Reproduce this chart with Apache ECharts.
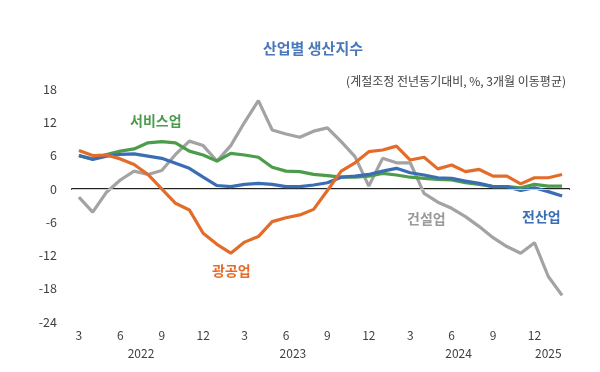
<!DOCTYPE html>
<html><head><meta charset="utf-8">
<script src="https://cdn.jsdelivr.net/npm/echarts@6/dist/echarts.min.js"></script>
<style>html,body{margin:0;padding:0;background:#fff}#c{width:600px;height:372px}</style>
</head><body><div id="c"></div>
<script>
var months = ['2022.3','2022.4','2022.5','2022.6','2022.7','2022.8','2022.9','2022.10','2022.11','2022.12',
  '2023.1','2023.2','2023.3','2023.4','2023.5','2023.6','2023.7','2023.8','2023.9','2023.10','2023.11','2023.12',
  '2024.1','2024.2','2024.3','2024.4','2024.5','2024.6','2024.7','2024.8','2024.9','2024.10','2024.11','2024.12',
  '2025.1','2025.2'];
var allIndustry = [6.0,5.3,5.9,6.2,6.3,5.9,5.5,4.6,3.7,2.1,0.6,0.4,0.8,1.0,0.8,0.4,0.4,0.7,1.1,2.1,2.3,2.6,3.2,3.7,2.9,2.5,2.0,1.9,1.4,1.0,0.4,0.4,-0.3,0.2,-0.5,-1.3];
var mining = [6.9,6.0,6.1,5.4,4.4,2.6,0.0,-2.6,-3.8,-8.0,-10.0,-11.6,-9.6,-8.6,-5.9,-5.2,-4.7,-3.7,-0.3,3.2,4.7,6.7,7.0,7.7,5.2,5.7,3.6,4.3,3.1,3.5,2.3,2.3,0.9,2.0,2.0,2.6];
var services = [6.0,5.4,6.2,6.8,7.2,8.3,8.5,8.3,6.8,6.1,5.0,6.4,6.1,5.7,3.9,3.2,3.1,2.6,2.4,2.1,2.1,2.3,2.8,2.5,2.1,1.9,1.7,1.6,1.1,0.8,0.4,0.4,0.2,0.8,0.5,0.5];
var construction = [-1.5,-4.2,-0.6,1.6,3.2,2.6,3.3,6.2,8.6,7.8,5.0,7.8,12.0,15.9,10.6,9.9,9.3,10.4,11.0,8.5,5.8,0.5,5.5,4.7,4.7,-0.8,-2.4,-3.5,-5.0,-6.8,-8.8,-10.4,-11.6,-9.7,-15.8,-19.2];
var yearLabels = ['2022','2023','2024','2025'];
var yearPositions = [4.5, 15.5, 27.5, 34];
var yTicks = [-24,-18,-12,-6,0,6,12,18];

var FONT = '"Noto Sans CJK KR", "Noto Sans", sans-serif';
var C_BLUE = '#3a6db3', C_ORANGE = '#e46c2a', C_GREEN = '#4b9d4b', C_GRAY = '#a3a3a3';

var chart = echarts.init(document.getElementById('c'), null, {renderer: 'canvas'});
function lineSeries(name, data, color, z) {
  return {name: name, type: 'line', data: data, showSymbol: false, symbol: 'none',
    lineStyle: {color: color, width: 3.2}, itemStyle: {color: color}, z: z, animation: false};
}
chart.setOption({
  animation: false,
  textStyle: {fontFamily: FONT},
  grid: {left: 72, right: 31, top: 89, bottom: 50},
  title: [
    {text: '산업별 생산지수', left: 308, top: 36, textAlign: 'center',
     textStyle: {color: '#4a78b8', fontSize: 15, fontWeight: 'bold', fontFamily: FONT}},
    {text: '(계절조정 전년동기대비, %, 3개월 이동평균)', right: 29, top: 70,
     textStyle: {color: '#404040', fontSize: 12, fontWeight: 'normal', fontFamily: FONT}}
  ],
  xAxis: [
    {type: 'category', data: months, boundaryGap: true,
     axisLine: {show: true, lineStyle: {color: '#222', width: 2}},
     axisTick: {show: false},
     axisLabel: {interval: 2, color: '#404040', fontSize: 12, margin: 7, fontFamily: FONT,
       formatter: function (v) { return v.split('.')[1]; }},
     splitLine: {show: false}},
    {type: 'value', position: 'bottom', min: -0.5, max: 35.5, interval: 0.5, offset: 18,
     axisLine: {show: false}, axisTick: {show: false}, splitLine: {show: false},
     axisLabel: {color: '#404040', fontSize: 12, margin: 7, fontFamily: FONT, showMinLabel: true, showMaxLabel: true,
       formatter: function (v) {
         for (var i = 0; i < yearPositions.length; i++) { if (Math.abs(v - yearPositions[i]) < 1e-6) return yearLabels[i]; }
         return '';
       }}}
  ],
  yAxis: {type: 'value', min: yTicks[0], max: yTicks[yTicks.length - 1], interval: 6,
    axisLine: {show: false}, axisTick: {show: false}, splitLine: {show: false},
    axisLabel: {color: '#404040', fontSize: 12.5, margin: 15, fontFamily: FONT}},
  series: [
    {name: 'zero', type: 'line', data: [], z: 1, silent: true,
     markLine: {silent: true, symbol: 'none', label: {show: false},
       lineStyle: {color: '#cfcfcf', width: 1, type: 'solid'}, data: [{yAxis: 0}]}},
    lineSeries('건설업', construction, C_GRAY, 2),
    lineSeries('서비스업', services, C_GREEN, 3),
    lineSeries('전산업', allIndustry, C_BLUE, 4),
    lineSeries('광공업', mining, C_ORANGE, 5)
  ],
  graphic: [
    {type: 'text', left: 130, top: 114, style: {text: '서비스업', fill: C_GREEN, font: 'bold 14px ' + FONT}},
    {type: 'text', left: 212, top: 264, style: {text: '광공업', fill: C_ORANGE, font: 'bold 14px ' + FONT}},
    {type: 'text', left: 407, top: 212, style: {text: '건설업', fill: '#9a9a9a', font: 'bold 14px ' + FONT}},
    {type: 'text', left: 522, top: 210, style: {text: '전산업', fill: C_BLUE, font: 'bold 14px ' + FONT}}
  ]
});
</script></body></html>
